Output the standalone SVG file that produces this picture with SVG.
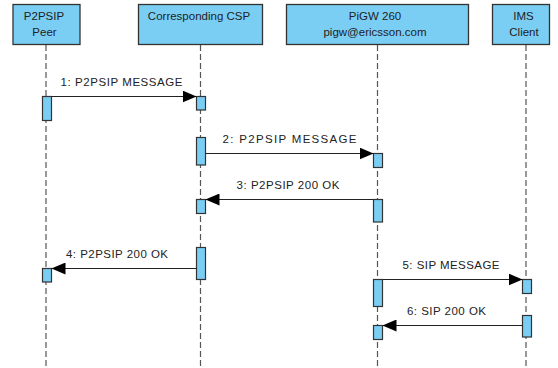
<svg xmlns="http://www.w3.org/2000/svg" width="558" height="368" viewBox="0 0 558 368">
<style>
.box{fill:#7ACEF4;stroke:#333;stroke-width:1.3}
.act{fill:#7ACEF4;stroke:#333;stroke-width:1.2}
.life{stroke:#555;stroke-width:1.2;stroke-dasharray:6,3;fill:none}
.msg{stroke:#222;stroke-width:1.2;fill:none;marker-end:url(#arr)}
text{font-family:"Liberation Sans",Arial,sans-serif;font-size:11.5px;fill:#222;text-anchor:middle}
</style>
<defs>
<marker id="arr" viewBox="0 0 14 12" refX="14" refY="6" markerWidth="14" markerHeight="12" markerUnits="userSpaceOnUse" orient="auto">
<path d="M0,0 L14,6 L0,12 Z" fill="#000"/>
</marker>
</defs>
<rect width="558" height="368" fill="#fff"/>
<g id="lifelines">
<line class="life" x1="46" y1="45" x2="46" y2="368"/>
<line class="life" x1="200.5" y1="45" x2="200.5" y2="368"/>
<line class="life" x1="377.5" y1="45" x2="377.5" y2="368"/>
<line class="life" x1="526" y1="45" x2="526" y2="368"/>
</g>
<g id="peer">
<rect class="box" x="13" y="4.5" width="67" height="40"/>
<text x="44" y="19.5">P2PSIP</text>
<text x="44.5" y="36">Peer</text>
</g>
<g id="csp">
<rect class="box" x="138.5" y="4.5" width="124" height="40"/>
<text x="199" y="19.5">Corresponding CSP</text>
</g>
<g id="pigw">
<rect class="box" x="286.5" y="4.5" width="182" height="40"/>
<text x="375" y="19.5">PiGW 260</text>
<text x="375" y="36">pigw@ericsson.com</text>
</g>
<g id="ims">
<rect class="box" x="492.5" y="4.5" width="57" height="40"/>
<text x="523.5" y="19.5">IMS</text>
<text x="524" y="36">Client</text>
</g>
<g id="activations">
<rect class="act" x="42.5" y="96.5" width="9" height="24"/>
<rect class="act" x="196.5" y="96.5" width="9" height="13.5"/>
<rect class="act" x="196.5" y="137.5" width="9" height="27.5"/>
<rect class="act" x="373.5" y="153.5" width="9" height="14"/>
<rect class="act" x="196.5" y="199.5" width="9" height="14"/>
<rect class="act" x="373.5" y="199.5" width="9" height="22.5"/>
<rect class="act" x="196.5" y="247.5" width="9" height="32"/>
<rect class="act" x="42.5" y="268.5" width="9" height="13.5"/>
<rect class="act" x="373.5" y="279.5" width="9" height="27"/>
<rect class="act" x="522.5" y="279.5" width="9" height="14"/>
<rect class="act" x="522.5" y="315.5" width="9" height="21.5"/>
<rect class="act" x="373.5" y="325.5" width="9" height="14"/>
</g>
<g id="connectors">
<line class="msg" x1="51.5" y1="96.5" x2="196.5" y2="96.5"/>
<line class="msg" x1="205.5" y1="153.5" x2="373.5" y2="153.5"/>
<line class="msg" x1="373.5" y1="199.5" x2="205.5" y2="199.5"/>
<line class="msg" x1="196.5" y1="268.5" x2="51.5" y2="268.5"/>
<line class="msg" x1="382.5" y1="279.5" x2="522.5" y2="279.5"/>
<line class="msg" x1="522.5" y1="325.5" x2="382.5" y2="325.5"/>
</g>
<g id="labels">
<text x="121.5" y="85.5" textLength="122" lengthAdjust="spacing">1: P2PSIP MESSAGE</text>
<text x="289.5" y="143" textLength="134" lengthAdjust="spacing">2: P2PSIP MESSAGE</text>
<text x="288" y="188.5" textLength="103" lengthAdjust="spacing">3: P2PSIP 200 OK</text>
<text x="117" y="258" textLength="102" lengthAdjust="spacing">4: P2PSIP 200 OK</text>
<text x="451" y="269" textLength="97" lengthAdjust="spacing">5: SIP MESSAGE</text>
<text x="446.5" y="315" textLength="79" lengthAdjust="spacing">6: SIP 200 OK</text>
</g>
</svg>
